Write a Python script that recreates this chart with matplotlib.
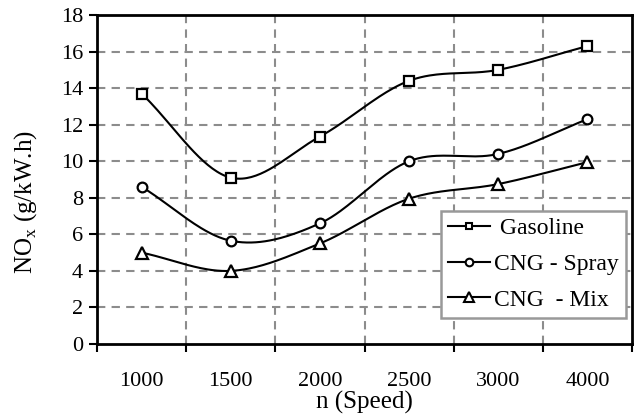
import numpy as np
import matplotlib
matplotlib.use("Agg")
import matplotlib.pyplot as plt
from matplotlib.ticker import FixedLocator

categories = ["1000", "1500", "2000", "2500", "3000", "4000"]
gasoline = [13.7, 9.1, 11.35, 14.4, 15.0, 16.3]
cng_spray = [8.6, 5.65, 6.6, 10.0, 10.4, 12.3]
cng_mix = [5.0, 4.0, 5.5, 7.95, 8.75, 9.95]

plt.rcParams['font.family'] = ['Liberation Serif', 'DejaVu Serif']
plt.rcParams['mathtext.fontset'] = 'custom'
plt.rcParams['mathtext.rm'] = 'Liberation Serif'

def catmull(x, y, n=40):
    x = np.asarray(x, float); y = np.asarray(y, float)
    px = np.concatenate([[2*x[0]-x[1]], x, [2*x[-1]-x[-2]]])
    py = np.concatenate([[2*y[0]-y[1]], y, [2*y[-1]-y[-2]]])
    xs, ys = [], []
    for i in range(1, len(px)-2):
        t = np.linspace(0, 1, n)
        for arr, out in ((px, xs), (py, ys)):
            p0, p1, p2, p3 = arr[i-1], arr[i], arr[i+1], arr[i+2]
            out.append(0.5*((2*p1) + (-p0+p2)*t + (2*p0-5*p1+4*p2-p3)*t**2 + (-p0+3*p1-3*p2+p3)*t**3))
    return np.concatenate(xs), np.concatenate(ys)

fig = plt.figure(figsize=(6.35, 4.19), dpi=100)
ax = fig.add_axes([97/635, 1-344/419, (632-97)/635, (344-15)/419])

x = np.arange(len(categories))
series = [(gasoline, 's', ' Gasoline', 7, 5), (cng_spray, 'o', 'CNG - Spray', 7, 5.5), (cng_mix, '^', 'CNG  - Mix', 9, 7)]
for vals, m, lab, ms, lms in series:
    sx, sy = catmull(x, vals)
    ax.plot(sx, sy, color='black', lw=1.5, zorder=3)
    ax.plot(x, vals, linestyle='none', marker=m, ms=ms, mfc='white', mec='black', mew=1.6, zorder=4)
    ax.plot([], [], color='black', lw=1.5, marker=m, ms=lms, mfc='white', mec='black', mew=1.5, label=lab)

ax.set_xlim(-0.5, len(categories)-0.5)
ax.set_ylim(0, 18)
ax.set_yticks(np.arange(0, 19, 2))
ax.set_xticks(x)
ax.set_xticklabels(categories)
ax.xaxis.set_minor_locator(FixedLocator(np.arange(-0.5, len(categories), 1)))
ax.tick_params(axis='x', which='major', length=0, pad=20, labelsize=16)
ax.tick_params(axis='x', which='minor', length=6, width=1.5, direction='out')
ax.tick_params(axis='y', length=6, width=1.5, labelsize=16, pad=4)
ax.grid(False)
for yv in np.arange(2, 18, 2):
    ax.axhline(yv, color='#8c8c8c', lw=1.5, ls=(0, (4, 3)), zorder=1)
for xv in np.arange(0.5, len(categories)-1, 1):
    ax.axvline(xv, color='#8c8c8c', lw=1.5, ls=(0, (4, 3)), zorder=1)
for s in ax.spines.values():
    s.set_linewidth(2)

ax.set_ylabel('NO$_\\mathrm{x}$ (g/kW.h)', fontsize=18)
ax.yaxis.set_label_coords(-0.108, 0.43)
ax.set_xlabel('n (Speed)', fontsize=18, labelpad=0)

leg = ax.legend(loc='lower right', bbox_to_anchor=(0.988, 0.08), fontsize=17, frameon=True,
                fancybox=False, edgecolor='#999999', framealpha=1, handlelength=1.8,
                handletextpad=0.15, borderpad=0.3, labelspacing=0.6, borderaxespad=0)
leg.get_frame().set_linewidth(1.8)

fig.savefig('out.png', dpi=100)
